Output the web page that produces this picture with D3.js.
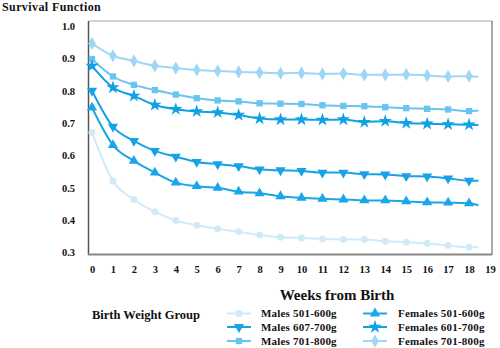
<!DOCTYPE html>
<html><head><meta charset="utf-8">
<script src="https://cdn.jsdelivr.net/npm/d3@7/dist/d3.min.js"></script>
<style>
html,body{margin:0;padding:0;background:#fff;}
svg{display:block;font-family:"Liberation Serif","Times New Roman",serif;font-weight:bold;}
</style></head>
<body><svg id="c" width="500" height="348"></svg>
<script>
// weeks; final entry is where each curve ends (end of follow-up)
const weeks = [0,1,2,3,4,5,6,7,8,9,10,11,12,13,14,15,16,17,18,18.45];
const markerWeeks = 19; // first 19 entries carry a marker
const xTicks = d3.range(0,20);
const yTicks = [0.3,0.4,0.5,0.6,0.7,0.8,0.9,1.0];

const males501_600   = [0.671,0.521,0.464,0.426,0.399,0.384,0.373,0.364,0.354,0.347,0.345,0.342,0.340,0.340,0.335,0.332,0.328,0.322,0.316,0.316];
const males601_700   = [0.800,0.689,0.645,0.614,0.596,0.580,0.573,0.567,0.557,0.554,0.552,0.547,0.547,0.542,0.541,0.536,0.535,0.529,0.522,0.522];
const males701_800   = [0.898,0.844,0.818,0.802,0.788,0.777,0.770,0.767,0.761,0.760,0.759,0.755,0.753,0.752,0.749,0.746,0.744,0.742,0.737,0.739];
const females501_600 = [0.748,0.632,0.583,0.547,0.516,0.505,0.500,0.488,0.483,0.474,0.469,0.466,0.464,0.461,0.461,0.458,0.455,0.454,0.452,0.446];
const females601_700 = [0.877,0.810,0.784,0.756,0.743,0.736,0.733,0.725,0.714,0.711,0.711,0.710,0.711,0.703,0.706,0.700,0.698,0.696,0.695,0.694];
const females701_800 = [0.946,0.908,0.892,0.877,0.870,0.864,0.861,0.858,0.856,0.854,0.855,0.852,0.853,0.849,0.849,0.850,0.847,0.844,0.845,0.843];

const seriesNames = ["Males 501-600g","Males 607-700g","Males 701-800g","Females 501-600g","Females 601-700g","Females 701-800g"];
const seriesValues = [males501_600,males601_700,males701_800,females501_600,females601_700,females701_800];
const seriesColors = ["#cfeafa","#17a2e6","#68c4f0","#1aa6e8","#10a0e4","#9fd6f5"];
const seriesSymbols = [d3.symbolCircle,"down",d3.symbolSquare,d3.symbolTriangle,d3.symbolStar,d3.symbolDiamond];

const svg = d3.select("#c");
const x = d3.scaleLinear().domain([0,19]).range([92,490]);
const y = d3.scaleLinear().domain([0.3,1.0]).range([252.5,26]);

// frame
svg.append("line").attr("x1",89).attr("x2",492).attr("y1",21).attr("y2",21).attr("stroke","#aaa").attr("stroke-width",1);
svg.append("line").attr("x1",492).attr("x2",492).attr("y1",21).attr("y2",255).attr("stroke","#555").attr("stroke-width",1);
svg.append("line").attr("x1",88.5).attr("x2",88.5).attr("y1",21).attr("y2",255).attr("stroke","#555").attr("stroke-width",1.5);
svg.append("line").attr("x1",88).attr("x2",492).attr("y1",254.5).attr("y2",254.5).attr("stroke","#888").attr("stroke-width",2);

// y axis labels
const yAxis = d3.axisLeft(y).tickValues(yTicks).tickFormat(d3.format(".1f")).tickSize(0).tickPadding(0);
const gy = svg.append("g").attr("transform","translate(75,0)").call(yAxis);
gy.select(".domain").remove();
gy.selectAll("text").attr("font-size",10.5).attr("font-family","Liberation Serif").attr("font-weight","bold").attr("fill","#111");

// x axis labels
const xAxis = d3.axisBottom(x).tickValues(xTicks).tickFormat(d3.format("d")).tickSize(0).tickPadding(0);
const gx = svg.append("g").attr("transform","translate(0,266)").call(xAxis);
gx.select(".domain").remove();
gx.selectAll("text").attr("font-size",10.5).attr("font-family","Liberation Serif").attr("font-weight","bold").attr("fill","#111");

// titles
svg.append("text").attr("x",2).attr("y",11).attr("font-size",12).attr("letter-spacing",0.4).attr("fill","#111").text("Survival Function");
svg.append("text").attr("x",337).attr("y",300).attr("text-anchor","middle").attr("font-size",15).attr("fill","#111").text("Weeks from Birth");

const line = d3.line().x((d,i)=>x(weeks[i])).y(d=>y(d)).curve(d3.curveMonotoneX);

function markerPath(sym, size){
  if (sym === "down") return d3.symbol().type(d3.symbolTriangle).size(size)();
  return d3.symbol().type(sym).size(size)();
}
function markerTransform(sym, px, py){
  return sym === "down" ? `translate(${px},${py}) rotate(180)` : `translate(${px},${py})`;
}
const symSize = s => s===d3.symbolStar ? 55 : (s===d3.symbolDiamond ? 50 : (s===d3.symbolSquare ? 40 : (s===d3.symbolCircle ? 38 : 45)));

seriesValues.forEach((vals,si)=>{
  const g = svg.append("g");
  g.append("path").attr("d",line(vals)).attr("fill","none").attr("stroke",seriesColors[si]).attr("stroke-width",2);
  vals.slice(0,markerWeeks).forEach((v,i)=>{
    g.append("path").attr("d",markerPath(seriesSymbols[si],symSize(seriesSymbols[si])))
      .attr("transform",markerTransform(seriesSymbols[si],x(weeks[i]),y(v)))
      .attr("fill",seriesColors[si]);
  });
});

// legend
svg.append("text").attr("x",92).attr("y",319).attr("font-size",12.5).attr("fill","#111").text("Birth Weight Group");
const legPos = [[227,313.5],[227,327],[227,341],[363,313.5],[363,327],[363,341]];
seriesNames.forEach((n,si)=>{
  const [lx,ly] = legPos[si];
  svg.append("line").attr("x1",lx).attr("x2",lx+24).attr("y1",ly).attr("y2",ly).attr("stroke",seriesColors[si]).attr("stroke-width",2);
  svg.append("path").attr("d",markerPath(seriesSymbols[si],symSize(seriesSymbols[si])))
    .attr("transform",markerTransform(seriesSymbols[si],lx+12,ly)).attr("fill",seriesColors[si]);
  svg.append("text").attr("x",lx+(si<3?34:35)).attr("y",ly+3.8).attr("font-size",11).attr("letter-spacing",0.2).attr("fill","#111").text(n);
});
</script></body></html>
